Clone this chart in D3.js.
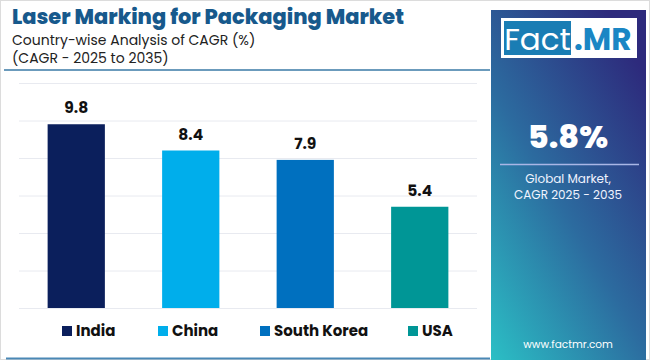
<!DOCTYPE html>
<html><head><meta charset="utf-8">
<script src="https://cdn.jsdelivr.net/npm/d3@7/dist/d3.min.js"></script>
<style>html,body{margin:0;padding:0;background:#fff;}svg{display:block;}</style>
</head><body>
<svg id="chart" width="650" height="360"></svg>
<script>
const categories = ["India", "China", "South Korea", "USA"];
const values = [9.8, 8.4, 7.9, 5.4];
const colors = ["#0b1f5c", "#00aeeb", "#0070bf", "#009696"];
const yTicks = [0, 2, 4, 6, 8, 10, 12];
const titleText = "Laser Marking for Packaging Market";
const subtitleLines = ["Country-wise Analysis of CAGR (%)", "(CAGR - 2025 to 2035)"];
const globalValue = "5.8%";
const globalLabel = ["Global Market,", "CAGR 2025 - 2035"];

const svg = d3.select("#chart");
const font = "Poppins, Inter, 'Open Sans', sans-serif";

const defs = svg.append("defs");
const g1 = defs.append("linearGradient").attr("id","panelGrad")
  .attr("x1","0").attr("y1","1").attr("x2","0.75").attr("y2","0");
g1.append("stop").attr("offset","0").attr("stop-color","#2bbfc5");
g1.append("stop").attr("offset","0.5").attr("stop-color","#2c6b9f");
g1.append("stop").attr("offset","1").attr("stop-color","#2d2a7c");

// outer frame
svg.append("rect").attr("x",0.5).attr("y",0.5).attr("width",649).attr("height",359)
  .attr("fill","#fff").attr("stroke","#dcdcdc");

// title
svg.append("text").attr("x",12).attr("y",24).text(titleText)
  .attr("font-family",font).attr("font-weight",800).attr("font-size",20.5)
  .attr("fill","#17598c").attr("textLength",392).attr("lengthAdjust","spacingAndGlyphs");
svg.selectAll(".sub").data(subtitleLines).join("text").attr("class","sub")
  .attr("x",12).attr("y",(d,i)=>45+i*18).text(d=>d)
  .attr("font-family",font).attr("font-size",14).attr("fill","#222");

// header rule and bottom rule
svg.append("line").attr("x1",4).attr("x2",490).attr("y1",70).attr("y2",70)
  .attr("stroke","#3a7aa6").attr("stroke-width",1.5);
svg.append("line").attr("x1",6).attr("x2",490).attr("y1",358.5).attr("y2",358.5)
  .attr("stroke","#4a88b5").attr("stroke-width",2);

// scales
const x = d3.scaleBand().domain(categories).range([19, 477]).paddingInner(0.5).paddingOuter(0.25);
const y = d3.scaleLinear().domain([0, 12]).range([308, 83]);

// gridlines
const gridAxis = d3.axisLeft(y).tickValues(yTicks).tickSize(-(477-19)).tickFormat("");
const gg = svg.append("g").attr("transform","translate(19,0)").call(gridAxis);
gg.select(".domain").remove();
gg.selectAll(".tick line").attr("stroke","#e8eaf0").attr("stroke-width",1);

// bars
svg.selectAll(".bar").data(values).join("rect").attr("class","bar")
  .attr("x",(d,i)=>x(categories[i])).attr("width",x.bandwidth())
  .attr("y",d=>y(d)).attr("height",d=>y(0)-y(d))
  .attr("fill",(d,i)=>colors[i]);

// value labels
svg.selectAll(".val").data(values).join("text").attr("class","val")
  .attr("x",(d,i)=>x(categories[i])+x.bandwidth()/2).attr("y",d=>y(d)-11)
  .attr("text-anchor","middle").text(d=>d.toFixed(1))
  .attr("font-family",font).attr("font-weight",700).attr("font-size",15.5).attr("fill","#111");

// legend
const legendX = [62, 158, 260, 408];
const lg = svg.selectAll(".lg").data(categories).join("g").attr("class","lg")
  .attr("transform",(d,i)=>`translate(${legendX[i]},326)`);
lg.append("rect").attr("width",10).attr("height",10).attr("fill",(d,i)=>colors[i]);
lg.append("text").attr("x",14).attr("y",10).text(d=>d)
  .attr("font-family",font).attr("font-weight",700).attr("font-size",15).attr("fill","#111");

// right panel
svg.append("rect").attr("x",491).attr("y",10).attr("width",155).attr("height",350)
  .attr("fill","url(#panelGrad)");
// logo
svg.append("rect").attr("x",501).attr("y",18).attr("width",136).attr("height",40).attr("fill","#fff");
svg.append("rect").attr("x",504).attr("y",21).attr("width",67).attr("height",34).attr("fill","#1a7db4");
svg.append("text").attr("x",537.5).attr("y",50).attr("text-anchor","middle").text("Fact")
  .attr("font-family",font).attr("font-size",31).attr("fill","#fff");
svg.append("text").attr("x",574).attr("y",50).text(".MR")
  .attr("font-family",font).attr("font-weight",700).attr("font-size",31).attr("fill","#1a86c4");

svg.append("text").attr("x",568).attr("y",148).attr("text-anchor","middle").text(globalValue)
  .attr("font-family",font).attr("font-weight",800).attr("font-size",32).attr("fill","#fff");
svg.append("line").attr("x1",500).attr("x2",639).attr("y1",164.5).attr("y2",164.5)
  .attr("stroke","#a9b6e6").attr("stroke-width",1.5);
svg.selectAll(".gl").data(globalLabel).join("text").attr("class","gl")
  .attr("x",568).attr("y",(d,i)=>183+i*16).attr("text-anchor","middle").text(d=>d)
  .attr("font-family",font).attr("font-size",12).attr("fill","#f0f4ff");
svg.append("text").attr("x",568).attr("y",348).attr("text-anchor","middle").text("www.factmr.com")
  .attr("font-family",font).attr("font-size",10.5).attr("fill","#fff");
</script>
</body></html>
